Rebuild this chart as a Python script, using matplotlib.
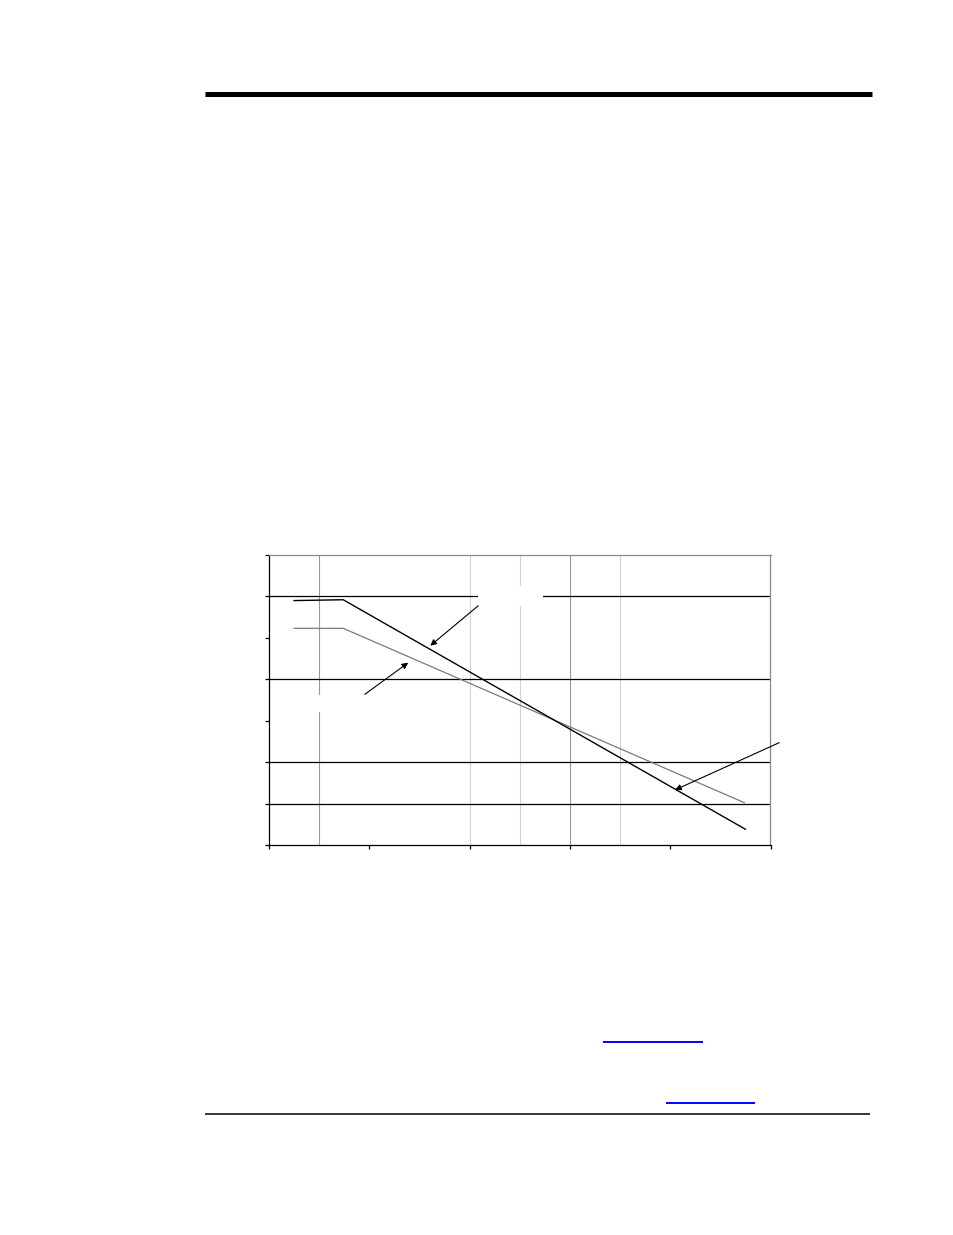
import matplotlib
matplotlib.use("Agg")
import matplotlib.pyplot as plt
from matplotlib.patches import Rectangle, FancyArrowPatch
from matplotlib.lines import Line2D

# ---- data (axis units are tick indices) ----
x_black = [0.25, 0.74, 4.75]
y_black = [5.90, 5.92, 0.38]
x_gray = [0.25, 0.74, 4.74]
y_gray = [5.23, 5.23, 1.02]

x_ticks = [0, 1, 2, 3, 4, 5]
y_ticks = [0, 1, 2, 3, 4, 5, 6, 7]
h_grid = [1, 2, 4, 6]
v_grid_dark = [0.5, 3.0]
v_grid_light = [2.0, 2.5, 3.5]

# arrows: (tail_x, tail_y, head_x, head_y)
arrows = [
    (2.087, 5.776, 1.608, 4.811),
    (0.955, 3.636, 1.388, 4.401),
    (5.087, 2.470, 4.048, 1.330),
]

W, H = 954, 1235
fig = plt.figure(figsize=(W / 100, H / 100), dpi=100)
fig.patch.set_facecolor("white")

def fx(px):
    return px / W

def fy(py):
    return 1 - py / H

# axes box: left 269, right 770.5, top 555, bottom 845
ax = fig.add_axes([fx(269), fy(845), (770.5 - 269) / W, (845 - 555) / H])
ax.set_xlim(0, 5)
ax.set_ylim(0, 7)

for y in h_grid:
    ax.axhline(y, color="black", lw=0.9, zorder=1)
for x in v_grid_dark:
    ax.axvline(x, color="#999999", lw=0.8, zorder=0.9)
for x in v_grid_light:
    ax.axvline(x, color="#d2d2d2", lw=0.8, zorder=0.9)

# white label boxes (labels are blank in the reference)
ax.add_patch(Rectangle((2.08, 5.76), 0.65, 0.49, facecolor="white",
                       edgecolor="none", zorder=2))
ax.add_patch(Rectangle((0.20, 3.22), 0.75, 0.40, facecolor="white",
                       edgecolor="none", zorder=2))

ax.plot(x_gray, y_gray, color="#7a7a7a", lw=0.9, zorder=3)
ax.plot(x_black, y_black, color="black", lw=1.0, zorder=4)

for tx, ty, hx, hy in arrows:
    a = FancyArrowPatch((tx, ty), (hx, hy), arrowstyle="-|>",
                        mutation_scale=9, color="black", lw=0.8,
                        shrinkA=0, shrinkB=0, zorder=5, clip_on=False)
    ax.add_patch(a)

ax.set_xticks(x_ticks)
ax.set_yticks(y_ticks)
ax.set_xticklabels([])
ax.set_yticklabels([])
ax.tick_params(direction="out", length=3, width=0.9, colors="black")
ax.spines["left"].set_color("black")
ax.spines["bottom"].set_color("black")
ax.spines["top"].set_color("#888888")
ax.spines["right"].set_color("#888888")
for s in ax.spines.values():
    s.set_linewidth(0.9)

# page decorations
fig.add_artist(Line2D([fx(205), fx(872)], [fy(93.5), fy(93.5)],
                      color="black", lw=3.6, solid_capstyle="butt"))
fig.add_artist(Line2D([fx(205), fx(870)], [fy(1114.3), fy(1114.3)],
                      color="black", lw=1.1, solid_capstyle="butt"))
fig.add_artist(Line2D([fx(603), fx(703)], [fy(1041.7), fy(1041.7)],
                      color="#0000ff", lw=1.4, solid_capstyle="butt"))
fig.add_artist(Line2D([fx(666), fx(755)], [fy(1102.7), fy(1102.7)],
                      color="#0000ff", lw=1.4, solid_capstyle="butt"))

fig.savefig("out.png", dpi=100, facecolor="white")
